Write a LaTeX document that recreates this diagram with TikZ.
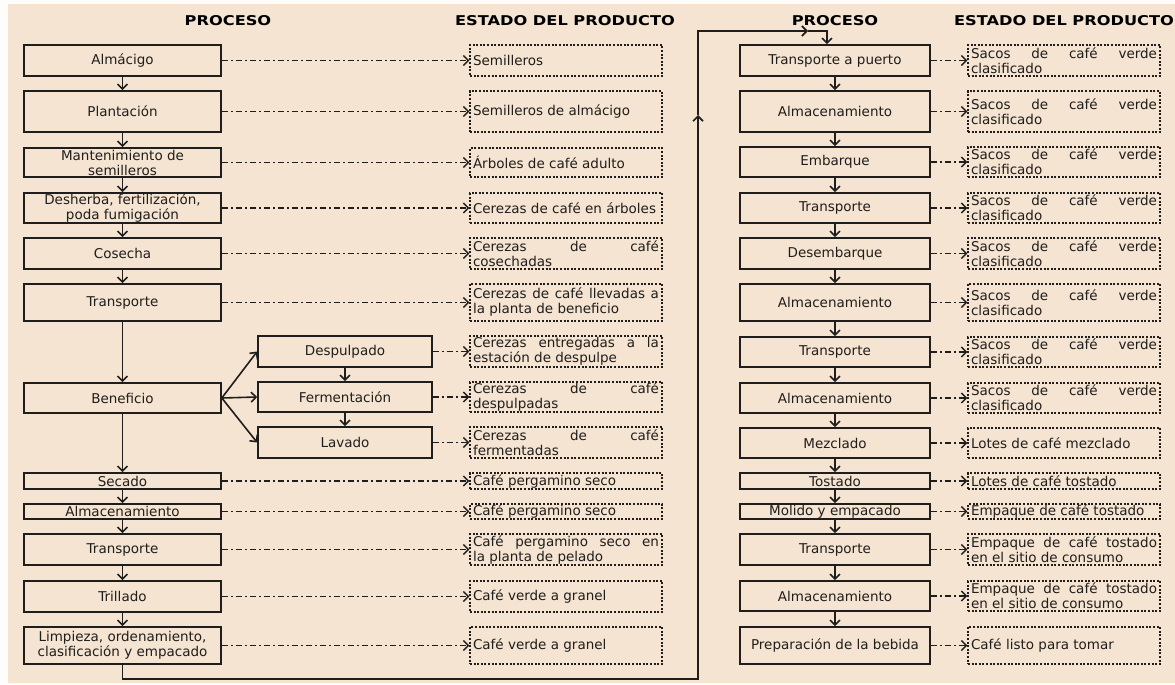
\documentclass[tikz,border=0pt]{standalone}
\usepackage{fontspec}
\setmainfont{DejaVu Sans}
\usetikzlibrary{arrows.meta}
\definecolor{papel}{RGB}{244,228,209}
\definecolor{tinta}{RGB}{32,30,28}
\begin{document}
\begin{tikzpicture}[x=1pt, y=-1pt,
    proceso/.style={draw=tinta, line width=1.6pt, minimum width=197pt, inner sep=0pt,
        align=center, text=tinta, font=\fontsize{13.5}{15}\selectfont},
    sub/.style={proceso, minimum width=174pt},
    derecho/.style={proceso, minimum width=190pt},
    estado/.style={draw=tinta, line width=1.3pt, dash pattern=on 2pt off 1.6pt,
        minimum width=192pt, text width=186pt, inner xsep=2.5pt, inner ysep=0pt,
        align=justify, text=tinta, font=\fontsize{13.5}{15}\selectfont},
    flecha/.style={draw=tinta, line width=1.6pt, -{Straight Barb[length=5pt,width=10pt]}},
    relacion/.style={flecha, line width=1.4pt, dash pattern=on 6.5pt off 3pt on 1.5pt off 3pt},
    titulo/.style={text=black, font=\fontsize{13.5}{15}\selectfont\bfseries}]

    \fill[white!94!papel] (0,0) rectangle (1175,685);
    \fill[papel] (8,4) rectangle (1175,683);
    \useasboundingbox (0,0) rectangle (1175,685);

    \node[titulo] (h1) at (228,21) {\scalebox{1.2}[1]{PROCESO}};
    \node[titulo] (h2) at (565,21) {\scalebox{1.2}[1]{ESTADO DEL PRODUCTO}};
    \node[titulo] (h3) at (835,21) {\scalebox{1.2}[1]{PROCESO}};
    \node[titulo] (h4) at (1064,21) {\scalebox{1.2}[1]{ESTADO DEL PRODUCTO}};

    \node[proceso, minimum height=31pt] (p1) at (122.5,60.5) {Almácigo};
    \node[proceso, minimum height=41pt] (p2) at (122.5,111.5) {Plantación};
    \node[proceso, minimum height=29pt] (p3) at (122.5,162.5) {Mantenimiento de\\semilleros};
    \node[proceso, minimum height=30pt] (p4) at (122.5,208) {Desherba, fertilización,\\poda fumigación};
    \node[proceso, minimum height=31pt] (p5) at (122.5,253.5) {Cosecha};
    \node[proceso, minimum height=37pt] (p6) at (122.5,302.5) {Transporte};
    \node[proceso, minimum height=30pt] (p7) at (122.5,398) {Beneficio};
    \node[sub, minimum height=31pt] (d1) at (345,351.5) {Despulpado};
    \node[sub, minimum height=30pt] (d2) at (345,397) {Fermentación};
    \node[sub, minimum height=31pt] (d3) at (345,442.5) {Lavado};
    \node[proceso, minimum height=16pt] (p8) at (122.5,481) {Secado};
    \node[proceso, minimum height=15pt] (p9) at (122.5,511.5) {Almacenamiento};
    \node[proceso, minimum height=31pt] (p10) at (122.5,549.5) {Transporte};
    \node[proceso, minimum height=31pt] (p11) at (122.5,596.5) {Trillado};
    \node[proceso, minimum height=37pt] (p12) at (122.5,645.5) {Limpieza, ordenamiento,\\clasificación y empacado};

    \node[estado, minimum height=31pt] (e1) at (566,60.5) {Semilleros};
    \node[estado, minimum height=41pt] (e2) at (566,111.5) {Semilleros de almácigo};
    \node[estado, minimum height=29pt] (e3) at (566,162.5) {Árboles de café adulto};
    \node[estado, minimum height=30pt] (e4) at (566,208) {Cerezas de café en árboles};
    \node[estado, minimum height=31pt] (e5) at (566,253.5) {Cerezas de café\linebreak cosechadas};
    \node[estado, minimum height=37pt] (e6) at (566,302.5) {Cerezas de café llevadas a\linebreak la planta de beneficio};
    \node[estado, minimum height=31pt] (e7) at (566,351.5) {Cerezas entregadas a la\linebreak estación de despulpe};
    \node[estado, minimum height=30pt] (e8) at (566,397) {Cerezas de café\linebreak despulpadas};
    \node[estado, minimum height=31pt] (e9) at (566,442.5) {Cerezas de café\linebreak fermentadas};
    \node[estado, minimum height=16pt] (e10) at (566,481) {Café pergamino seco};
    \node[estado, minimum height=15pt] (e11) at (566,511.5) {Café pergamino seco};
    \node[estado, minimum height=31pt] (e12) at (566,549.5) {Café pergamino seco en\linebreak la planta de pelado};
    \node[estado, minimum height=31pt] (e13) at (566,596.5) {Café verde a granel};
    \node[estado, minimum height=37pt] (e14) at (566,645.5) {Café verde a granel};

    \node[derecho, minimum height=31pt] (q1) at (835,60.5) {Transporte a puerto};
    \node[derecho, minimum height=41pt] (q2) at (835,111.5) {Almacenamiento};
    \node[derecho, minimum height=30pt] (q3) at (835,162) {Embarque};
    \node[derecho, minimum height=30pt] (q4) at (835,208) {Transporte};
    \node[derecho, minimum height=31pt] (q5) at (835,253.5) {Desembarque};
    \node[derecho, minimum height=37pt] (q6) at (835,302.5) {Almacenamiento};
    \node[derecho, minimum height=30pt] (q7) at (835,352) {Transporte};
    \node[derecho, minimum height=30pt] (q8) at (835,398) {Almacenamiento};
    \node[derecho, minimum height=30pt] (q9) at (835,443) {Mezclado};
    \node[derecho, minimum height=16pt] (q10) at (835,481) {Tostado};
    \node[derecho, minimum height=15pt] (q11) at (835,511.5) {Molido y empacado};
    \node[derecho, minimum height=31pt] (q12) at (835,549.5) {Transporte};
    \node[derecho, minimum height=30pt] (q13) at (835,596) {Almacenamiento};
    \node[derecho, minimum height=37pt] (q14) at (835,645.5) {Preparación de la bebida};

    \node[estado, minimum height=31pt] (f1) at (1064,60.5) {Sacos de café verde\linebreak clasificado};
    \node[estado, minimum height=41pt] (f2) at (1064,111.5) {Sacos de café verde\linebreak clasificado};
    \node[estado, minimum height=30pt] (f3) at (1064,162) {Sacos de café verde\linebreak clasificado};
    \node[estado, minimum height=30pt] (f4) at (1064,208) {Sacos de café verde\linebreak clasificado};
    \node[estado, minimum height=31pt] (f5) at (1064,253.5) {Sacos de café verde\linebreak clasificado};
    \node[estado, minimum height=37pt] (f6) at (1064,302.5) {Sacos de café verde\linebreak clasificado};
    \node[estado, minimum height=30pt] (f7) at (1064,352) {Sacos de café verde\linebreak clasificado};
    \node[estado, minimum height=30pt] (f8) at (1064,398) {Sacos de café verde\linebreak clasificado};
    \node[estado, minimum height=30pt] (f9) at (1064,443) {Lotes de café mezclado};
    \node[estado, minimum height=16pt] (f10) at (1064,481) {Lotes de café tostado};
    \node[estado, minimum height=15pt] (f11) at (1064,511.5) {Empaque de café tostado};
    \node[estado, minimum height=31pt] (f12) at (1064,549.5) {Empaque de café tostado\linebreak en el sitio de consumo};
    \node[estado, minimum height=30pt] (f13) at (1064,596) {Empaque de café tostado\linebreak en el sitio de consumo};
    \node[estado, minimum height=37pt] (f14) at (1064,645.5) {Café listo para tomar};

    \draw[flecha] (p1) -- (p2);
    \draw[flecha] (p2) -- (p3);
    \draw[flecha] (p3) -- (p4);
    \draw[flecha] (p4) -- (p5);
    \draw[flecha] (p5) -- (p6);
    \draw[flecha] (p6) -- (p7);
    \draw[flecha] (p7) -- (p8);
    \draw[flecha] (p8) -- (p9);
    \draw[flecha] (p9) -- (p10);
    \draw[flecha] (p10) -- (p11);
    \draw[flecha] (p11) -- (p12);
    \draw[flecha] (p7.east) -- (d1.west);
    \draw[flecha] (p7.east) -- (d2.west);
    \draw[flecha] (p7.east) -- (d3.west);
    \draw[flecha] (d1) -- (d2);
    \draw[flecha] (d2) -- (d3);

    \draw[flecha] (q1) -- (q2);
    \draw[flecha] (q2) -- (q3);
    \draw[flecha] (q3) -- (q4);
    \draw[flecha] (q4) -- (q5);
    \draw[flecha] (q5) -- (q6);
    \draw[flecha] (q6) -- (q7);
    \draw[flecha] (q7) -- (q8);
    \draw[flecha] (q8) -- (q9);
    \draw[flecha] (q9) -- (q10);
    \draw[flecha] (q10) -- (q11);
    \draw[flecha] (q11) -- (q12);
    \draw[flecha] (q12) -- (q13);
    \draw[flecha] (q13) -- (q14);

    \draw[relacion] (p1) -- (e1);
    \draw[relacion] (p2) -- (e2);
    \draw[relacion] (p3) -- (e3);
    \draw[relacion] (p4) -- (e4);
    \draw[relacion] (p5) -- (e5);
    \draw[relacion] (p6) -- (e6);
    \draw[relacion] (d1) -- (e7);
    \draw[relacion] (d2) -- (e8);
    \draw[relacion] (d3) -- (e9);
    \draw[relacion] (p8) -- (e10);
    \draw[relacion] (p9) -- (e11);
    \draw[relacion] (p10) -- (e12);
    \draw[relacion] (p11) -- (e13);
    \draw[relacion] (p12) -- (e14);

    \draw[relacion] (q1) -- (f1);
    \draw[relacion] (q2) -- (f2);
    \draw[relacion] (q3) -- (f3);
    \draw[relacion] (q4) -- (f4);
    \draw[relacion] (q5) -- (f5);
    \draw[relacion] (q6) -- (f6);
    \draw[relacion] (q7) -- (f7);
    \draw[relacion] (q8) -- (f8);
    \draw[relacion] (q9) -- (f9);
    \draw[relacion] (q10) -- (f10);
    \draw[relacion] (q11) -- (f11);
    \draw[relacion] (q12) -- (f12);
    \draw[relacion] (q13) -- (f13);
    \draw[relacion] (q14) -- (f14);

    \coordinate (esq1) at (698,679);
    \coordinate (subida) at (698,115);
    \coordinate (esq2) at (698,31);
    \coordinate (llegada) at (808,31);
    \coordinate (esq3) at (827,31);
    \draw[flecha] (p12.south) |- (esq1) -- (subida);
    \draw[flecha] (subida) -- (esq2) -- (llegada);
    \draw[flecha] (llegada) -- (esq3) -- (esq3 |- q1.north);
\end{tikzpicture}
\end{document}
